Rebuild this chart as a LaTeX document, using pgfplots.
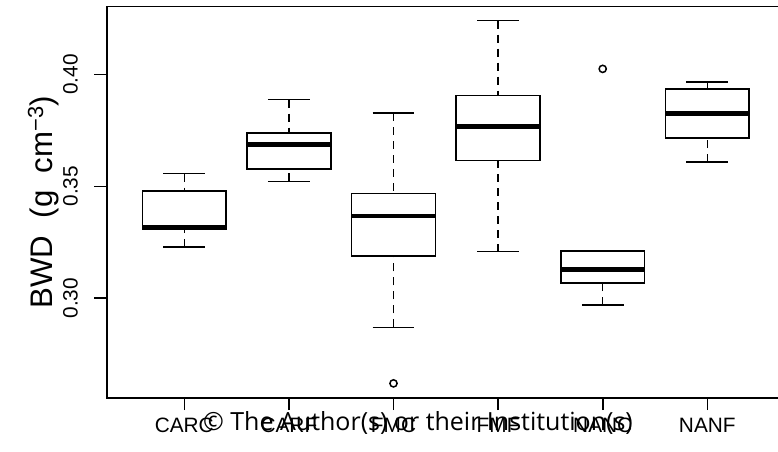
\documentclass[border=0pt]{standalone}
\usepackage{pgfplots}
\pgfplotsset{compat=1.18}
\usepgfplotslibrary{statistics}
\usepackage{fontspec}
\setmainfont{Liberation Sans}
\newfontfamily\wmfont{Open Sans}
\pgfplotsset{
  rbox/.style={
    black, solid, line width=1.6bp, mark=o, mark size=3.6bp,
    mark options={solid, line width=1.5bp},
    boxplot prepared={#1, box extend=0.8, whisker extend=0.4, draw direction=y},
    boxplot/every median/.style={line width=4.8bp},
    boxplot/draw/whisker/.code 2 args={
      \draw[black, line width=1.5bp, dash pattern=on 8bp off 6bp]
        (boxplot cs:##2) -- (boxplot cs:##1);
      \draw[black, solid, line width=1.6bp]
        (boxplot whisker cs:##2,0) -- (boxplot whisker cs:##2,1);
    },
  },
}
\begin{document}
\begin{tikzpicture}
\useasboundingbox (-106.9bp,-54.3bp) rectangle (671.1bp,397.7bp);
\begin{axis}[
  name=ax, at={(0,0)}, anchor=south west,
  scale only axis, width=677.8bp, height=391bp,
  xmin=0.26, xmax=6.74, ymin=0.2555, ymax=0.4303,
  axis line style={line width=1.6bp, black},
  xtick={1,2,3,4,5,6},
  xticklabels={CARC,CARF,FMC,FMF,NANC,NANF},
  ytick={0.30,0.35,0.40},
  yticklabels={0.30,0.35,0.40},
  tick align=outside, major tick length=12.5bp,
  every tick/.style={line width=1.6bp, black},
  major tick style={line width=1.6bp, black},
  xtick pos=left, ytick pos=left,
  ticklabel style={font=\fontsize{20.8bp}{25bp}\selectfont},
  yticklabel style={xshift=-13bp, rotate=90, anchor=south},
  xticklabel style={anchor=north, yshift=-4bp},
  ylabel={BWD\ \ (g\ \ cm\textsuperscript{−3})},
  every axis y label/.style={at={(axis description cs:-0.081,0.5)}, rotate=90, anchor=base,
    font=\fontsize{31.2bp}{36bp}\selectfont},
]
\addplot[rbox={lower whisker=0.3228, lower quartile=0.3308, median=0.3317, upper quartile=0.3478, upper whisker=0.3557, draw position=1}] coordinates {};
\addplot[rbox={lower whisker=0.3522, lower quartile=0.3577, median=0.3686, upper quartile=0.3738, upper whisker=0.3888, draw position=2}] coordinates {};
\addplot[rbox={lower whisker=0.2869, lower quartile=0.3189, median=0.3367, upper quartile=0.3467, upper whisker=0.3827, draw position=3}] table[row sep=\\, y index=0] {0.2619\\};
\addplot[rbox={lower whisker=0.3208, lower quartile=0.3616, median=0.3768, upper quartile=0.3906, upper whisker=0.4241, draw position=4}] coordinates {};
\addplot[rbox={lower whisker=0.2969, lower quartile=0.3068, median=0.3128, upper quartile=0.3210, upper whisker=0.3210, draw position=5}] table[row sep=\\, y index=0] {0.4025\\};
\addplot[rbox={lower whisker=0.3608, lower quartile=0.3717, median=0.3827, upper quartile=0.3936, upper whisker=0.3966, draw position=6}] coordinates {};
\end{axis}
\node[anchor=base, font=\wmfont\fontsize{25bp}{30bp}\selectfont] at (311.1bp,-33.2bp) {© The Author(s) or their Institution(s)};
\end{tikzpicture}
\end{document}
